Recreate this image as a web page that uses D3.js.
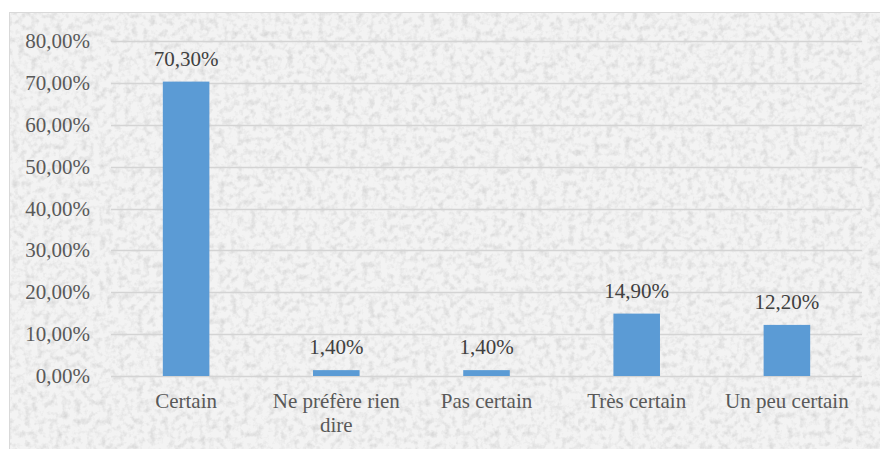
<!DOCTYPE html>
<html><head><meta charset="utf-8">
<script src="https://cdn.jsdelivr.net/npm/d3@7"></script>
<style>body{margin:0;background:#fff}svg{display:block}</style>
</head><body>
<script>
const categories = ["Certain", "Ne préfère rien dire", "Pas certain", "Très certain", "Un peu certain"];
const values = [70.3, 1.4, 1.4, 14.9, 12.2];
const yTicks = [0, 10, 20, 30, 40, 50, 60, 70, 80];

const W = 880, H = 449;
const svg = d3.select("body").append("svg").attr("width", W).attr("height", H);
const defs = svg.append("defs");
const f = defs.append("filter").attr("id", "granite").attr("x", 0).attr("y", 0).attr("width", "100%").attr("height", "100%");
f.append("feTurbulence").attr("type", "fractalNoise").attr("baseFrequency", "0.16").attr("numOctaves", 3).attr("seed", 4).attr("result", "n");
f.append("feColorMatrix").attr("in", "n").attr("type", "matrix")
  .attr("values", "0 0 0 0 0  0 0 0 0 0  0 0 0 0 0  -1.1 0 0 0 0.62").attr("result", "a");
f.append("feFlood").attr("flood-color", "#a6a6a6").attr("result", "c");
f.append("feComposite").attr("in", "c").attr("in2", "a").attr("operator", "in").attr("result", "d");
f.append("feComponentTransfer").attr("in", "d").append("feFuncA").attr("type", "linear").attr("slope", 0.7).attr("intercept", 0);

svg.append("rect").attr("x", 9.5).attr("y", 12.5).attr("width", W + 10).attr("height", H).attr("fill", "#f3f3f3").attr("stroke", "#d9d9d9");
svg.append("rect").attr("x", 10).attr("y", 13).attr("width", W).attr("height", H).attr("filter", "url(#granite)").attr("fill", "#fff");

const x = d3.scaleBand().domain(categories).range([111, 862]).paddingInner(0.69).paddingOuter(0.345);
const y = d3.scaleLinear().domain([0, 80]).range([376, 41]);

const FONT = '"Liberation Serif"';
const FS = "21px";
const g = svg.append("g");
g.selectAll("line.grid").data(yTicks).join("line")
  .attr("x1", 111).attr("x2", 862)
  .attr("y1", d => Math.round(y(d)) + 0.5).attr("y2", d => Math.round(y(d)) + 0.5)
  .attr("stroke", "#d4d4d4").attr("stroke-width", 1.3);

g.selectAll("text.yl").data(yTicks).join("text")
  .attr("x", 90).attr("y", d => y(d) + 7)
  .attr("text-anchor", "end").attr("fill", "#595959")
  .style("font-family", FONT).style("font-size", FS)
  .text(d => d.toFixed(2).replace(".", ",") + "%");

const data = categories.map((c, i) => ({c, v: values[i]}));
g.selectAll("rect.bar").data(data).join("rect")
  .attr("x", d => x(d.c)).attr("width", x.bandwidth())
  .attr("y", d => y(d.v)).attr("height", d => y(0) - y(d.v))
  .attr("fill", "#5b9bd5");

g.selectAll("text.vl").data(data).join("text")
  .attr("x", d => x(d.c) + x.bandwidth() / 2).attr("y", d => y(d.v) - 16)
  .attr("text-anchor", "middle").attr("fill", "#404040")
  .style("font-family", FONT).style("font-size", FS)
  .text(d => d.v.toFixed(2).replace(".", ",") + "%");

const labelLines = ["Certain", ["Ne préfère rien", "dire"], "Pas certain", "Très certain", "Un peu certain"];
g.selectAll("text.xl").data(data).join("text")
  .attr("x", d => x(d.c) + x.bandwidth() / 2).attr("y", 408)
  .attr("text-anchor", "middle").attr("fill", "#595959")
  .style("font-family", FONT).style("font-size", FS)
  .each(function(d, i) {
    const lines = Array.isArray(labelLines[i]) ? labelLines[i] : [labelLines[i]];
    const t = d3.select(this);
    lines.forEach((l, j) => t.append("tspan").attr("x", x(d.c) + x.bandwidth() / 2).attr("dy", j ? 24 : 0).text(l));
  });
</script>
</body></html>
